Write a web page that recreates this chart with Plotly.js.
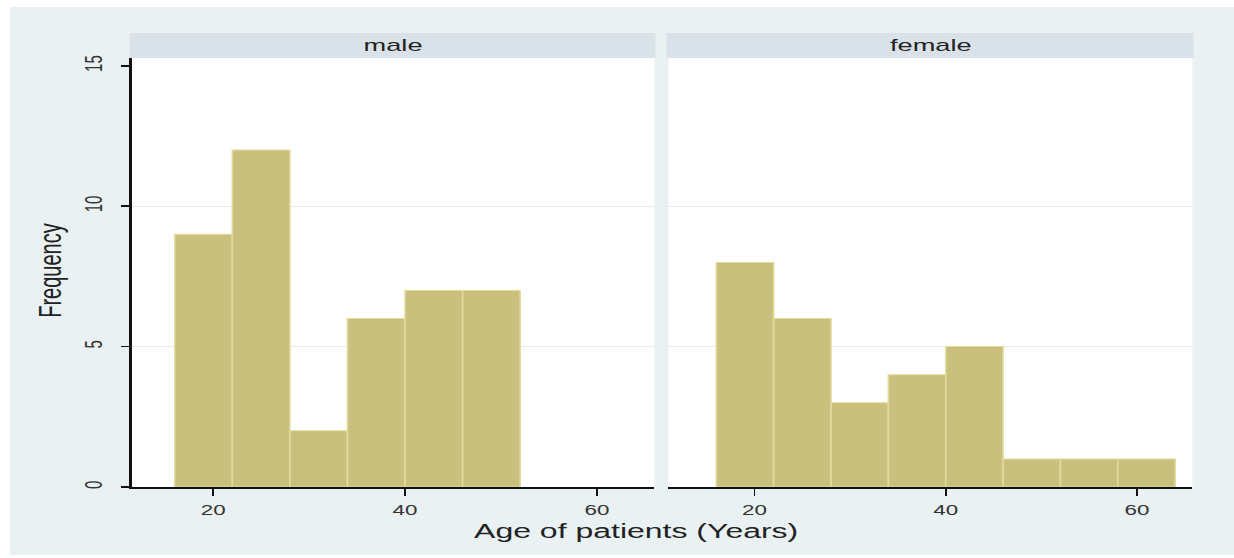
<!DOCTYPE html>
<html><head><meta charset="utf-8">
<script src="https://cdn.plot.ly/plotly-3.0.1.min.js"></script>
<style>
html,body{margin:0;padding:0;background:#ffffff;overflow:hidden;width:1234px;height:558px}
#chart{position:absolute;left:10px;top:7px;width:765px;height:548px;transform:scaleX(1.6);transform-origin:0 0}
</style></head><body><div id="chart"></div><script>
// data
const binCenters = [19, 25, 31, 37, 43, 49, 55, 61];
const binWidth = 6;
const maleCounts = [9, 12, 2, 6, 7, 7, 0, 0];
const femaleCounts = [8, 6, 3, 4, 5, 1, 1, 1];
const panelLabels = ['male', 'female'];
const yTicks = [0, 5, 10, 15];
const xTicks = [20, 40, 60];
const gridValues = [5, 10];
const xTitle = 'Age of patients (Years)';
const yTitle = 'Frequency';

const FONT = '"Liberation Sans", Arial, sans-serif';
const BAR = '#c9c07d', BAR_LINE = '#e3da9e', STRIP = '#d8e2e8', BG = '#e9f1f3', INK = '#222222';

function barTrace(y, xa, ya) {
  return {type: 'bar', x: binCenters, y: y, width: binCenters.map(() => binWidth),
    xaxis: xa, yaxis: ya, hoverinfo: 'skip',
    marker: {color: BAR, line: {color: BAR_LINE, width: y.map(v => (v > 0 ? 1 : 0))}}};
}
const traces = [barTrace(maleCounts, 'x', 'y'), barTrace(femaleCounts, 'x2', 'y2')];

const xCommon = {tickvals: xTicks, ticks: 'outside', ticklen: 7, tickwidth: 1.2, tickcolor: '#111',
  showline: true, linecolor: '#111', linewidth: 1.5, showgrid: false, zeroline: false,
  tickfont: {family: FONT, size: 14, color: '#333'}, ticklabelstandoff: 3};
const yMinor = {tickvals: gridValues, showgrid: true, gridcolor: '#ebebeb', gridwidth: 1, ticks: ''};

const layout = {
  width: 765, height: 548, paper_bgcolor: BG, plot_bgcolor: '#ffffff',
  margin: {l: 75.6, r: 26.3, t: 51, b: 68}, showlegend: false, bargap: 0,
  xaxis: Object.assign({domain: [0, 0.4929], range: [11.5, 66], anchor: 'y'}, xCommon),
  xaxis2: Object.assign({domain: [0.5061, 1], range: [11.0, 65.8], anchor: 'y2'}, xCommon),
  yaxis: {range: [0, 15.28], tickvals: yTicks, ticks: 'outside', ticklen: 5, tickwidth: 1.5, tickcolor: '#111',
    showline: true, linecolor: '#111', linewidth: 1.5, showgrid: false, zeroline: false, tickangle: -90,
    tickfont: {family: FONT, size: 15, color: '#333'}, ticklabelstandoff: 6, minor: yMinor, anchor: 'x'},
  yaxis2: {matches: 'y', range: [0, 15.28], anchor: 'x2', showline: false, ticks: '', showticklabels: false,
    showgrid: false, zeroline: false, minor: yMinor},
  shapes: ['x', 'x2'].map(xa => ({type: 'rect', xref: xa + ' domain', yref: 'paper', x0: -0.004, x1: 1.002,
    y0: 1, y1: 1.0583, fillcolor: STRIP, line: {width: 0}})),
  annotations: [
    ...['x', 'x2'].map((xa, i) => ({xref: xa + ' domain', yref: 'paper', x: 0.5, y: 1.029, yanchor: 'middle',
      text: panelLabels[i], showarrow: false, font: {family: FONT, size: 17, color: INK}})),
    {xref: 'paper', yref: 'paper', x: 0.476, y: -0.1026, xanchor: 'center', yanchor: 'middle',
      text: xTitle, showarrow: false, font: {family: FONT, size: 20, color: INK}},
    {xref: 'paper', yref: 'paper', x: -0.0763, y: 0.505, xanchor: 'center', yanchor: 'middle', textangle: -90,
      text: yTitle, showarrow: false, font: {family: FONT, size: 20, color: INK}}
  ]
};
Plotly.newPlot('chart', traces, layout, {staticPlot: true, displayModeBar: false});
</script></body></html>
